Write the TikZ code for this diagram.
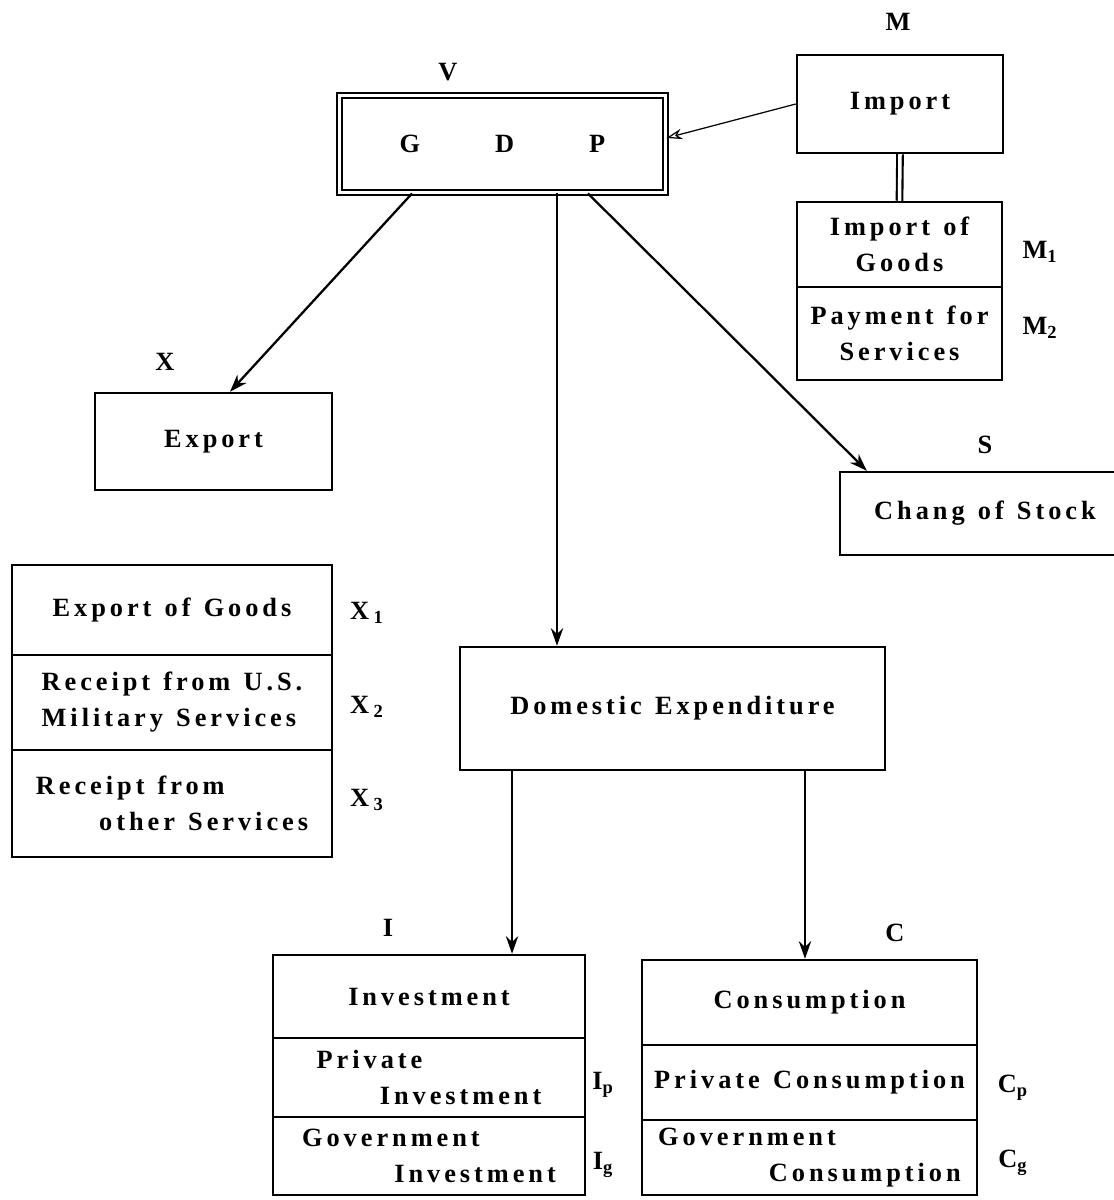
\documentclass[tikz,border=0pt]{standalone}
\usepackage{fontspec}
\setmainfont{Liberation Serif}[LetterSpace=15]
\usetikzlibrary{arrows.meta,calc}
\newcommand\txtfont{\fontsize{15}{20.5}\selectfont\bfseries\spaceskip=0.5em plus 0.1em\relax}
\begin{document}
\begin{tikzpicture}[x=0.02cm,y=-0.02cm,
  sz/.style 2 args={minimum width=#1*0.02cm, minimum height=#2*0.02cm},
  box/.style={draw, line width=1.4pt, inner sep=0pt, font=\txtfont, align=center},
  lbl/.style={font=\txtfont, inner sep=0pt},
  arr/.style={line width=1.3pt, -{Stealth[length=10pt,width=7pt]}},
  thinarr/.style={line width=0.7pt, -{Stealth[length=9pt,width=6pt,open]}}]
\fill[white] (0,0) rectangle (1114,1200);
\useasboundingbox (0,0) rectangle (1114,1200);

% top right: import
\node[box, sz={206}{98}] (import) at (900,104) {Import};
\node[box, sz={205}{85}] (imp1) at (899.5,244.5) {Import of\\Goods};
\node[box, sz={205}{93}] (imp2) at (899.5,333.5) {Payment for\\Services};

% GDP
\node[box, sz={326}{97}, line width=1.1pt, double, double distance=2pt] (gdp) at (502.5,144) {\raisebox{-0.12cm}{G\hspace{1.5cm}D\hspace{1.5cm}P}};

% export
\node[box, sz={237}{97}] (export) at (213.5,441.5) {\raisebox{-0.1cm}{Export}};
\node[box, sz={290}{83}] (stock) at (985,513.5) {Chang of Stock};

\node[box, sz={320}{90}] (ex1) at (172,610) {Export of Goods};
\node[box, sz={320}{95}, align=left] (ex2) at (172,702.5) {Receipt from U.S.\\Military Services};
\node[box, sz={320}{107}, align=left] (ex3) at (172,803.5) {Receipt from\\\hspace*{2.4em}other Services};

% domestic
\node[box, sz={425}{123}] (dom) at (672.5,708.5) {Domestic Expenditure};

% investment
\node[box, sz={312}{83}] (inv) at (429,996.5) {Investment};
\node[box, sz={312}{79}, align=left] (inv2) at (429,1077.5) {Private\\\hspace*{2.4em}Investment};
\node[box, sz={312}{78}, align=left] (inv3) at (429,1156) {Government\\\hspace*{3.5em}Investment};

% consumption
\node[box, sz={335}{85}] (con) at (809.5,1002.5) {Consumption};
\node[box, sz={335}{75}] (con2) at (809.5,1082.5) {Private Consumption};
\node[box, sz={335}{75}, align=left] (con3) at (809.5,1157.5) {Government\\\hspace*{4.2em}Consumption};

% labels
\node[lbl] (lM) at (898,22) {M};
\node[lbl] (lV) at (448,72) {V};
\node[lbl] (lX) at (165,362) {X};
\node[lbl] (lS) at (985,445) {S};
\node[lbl] (lI) at (388,928) {I};
\node[lbl] (lC) at (895,933) {C};
\node[lbl] (lM1) at (1040,252) {M\textsubscript{1}};
\node[lbl] (lM2) at (1040,328) {M\textsubscript{2}};
\node[lbl] (lX1) at (367,613) {X\,\textsubscript{1}};
\node[lbl] (lX2) at (367,707) {X\,\textsubscript{2}};
\node[lbl] (lX3) at (367,800) {X\,\textsubscript{3}};
\node[lbl] (lIp) at (603,1085) {I\textsubscript{p}};
\node[lbl] (lIg) at (603,1165) {I\textsubscript{g}};
\node[lbl] (lCp) at (1013,1088) {C\textsubscript{p}};
\node[lbl] (lCg) at (1013,1163) {C\textsubscript{g}};

% connectors
\draw[thinarr] (import.west) -- ([yshift=0.12cm]gdp.east);
\draw[line width=1.2pt, double, double distance=2pt] (import.south) -- (imp1.north);
\draw[arr] ([xshift=-1.81cm]gdp.south) -- ([xshift=0.33cm]export.north);
\draw[arr] ([xshift=1.09cm]gdp.south) -- ([xshift=1.09cm]gdp.south |- dom.north);
\draw[arr] ([xshift=1.71cm]gdp.south) -- ([xshift=0.56cm]stock.north west);
\draw[arr] ([xshift=-3.21cm]dom.south) -- ([xshift=-3.21cm]dom.south |- inv.north);
\draw[arr] ([xshift=2.65cm]dom.south) -- ([xshift=2.65cm]dom.south |- con.north);
\end{tikzpicture}
\end{document}
